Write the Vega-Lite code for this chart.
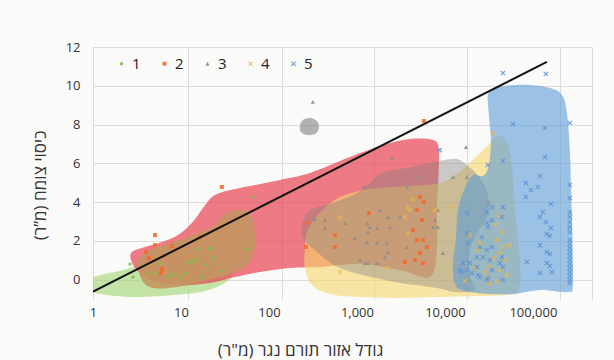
{
"$schema": "https://vega.github.io/schema/vega-lite/v6.json",
"width": 499,
"height": 252,
"autosize": {"type": "none"},
"padding": {"left": 93, "top": 47, "right": 22, "bottom": 61},
"background": "#fafaf9",
"config": {
  "view": {"stroke": null},
  "font": "Open Sans, DejaVu Sans",
  "axis": {"labelFont": "Open Sans, DejaVu Sans", "titleFont": "Open Sans, DejaVu Sans", "labelColor": "#333333", "titleColor": "#333333", "gridColor": "#dddbd9", "gridWidth": 1, "gridOpacity": 1, "domain": false, "ticks": false},
  "legend": {"labelFont": "Open Sans, DejaVu Sans", "labelColor": "#222222"}
},
"datasets": {
  "blobs": [
    {"b":"green","i":0,"x":1,"y":0.08},{"b":"green","i":1,"x":1.2,"y":0.23},{"b":"green","i":2,"x":1.78,"y":0.39},{"b":"green","i":3,"x":2.63,"y":0.6},{"b":"green","i":4,"x":3.9,"y":0.91},{"b":"green","i":5,"x":6.58,"y":1.22},{"b":"green","i":6,"x":12.7,"y":1.42},{"b":"green","i":7,"x":24.3,"y":1.27},{"b":"green","i":8,"x":38,"y":0.39},{"b":"green","i":9,"x":32.5,"y":-0.12},{"b":"green","i":10,"x":18.7,"y":-0.59},{"b":"green","i":11,"x":8.55,"y":-0.8},{"b":"green","i":12,"x":3,"y":-0.9},{"b":"green","i":13,"x":1.2,"y":-0.74},{"b":"green","i":14,"x":1,"y":-0.54},
    {"b":"red","i":0,"x":2.77,"y":1.42},{"b":"red","i":1,"x":3.9,"y":1.68},{"b":"red","i":2,"x":6.08,"y":1.94},{"b":"red","i":3,"x":9.25,"y":2.3},{"b":"red","i":4,"x":13.3,"y":2.92},{"b":"red","i":5,"x":17.8,"y":3.69},{"b":"red","i":6,"x":22.5,"y":4.26},{"b":"red","i":7,"x":30,"y":4.52},{"b":"red","i":8,"x":46.8,"y":4.72},{"b":"red","i":9,"x":133,"y":5.14},{"b":"red","i":10,"x":292,"y":5.5},{"b":"red","i":11,"x":832,"y":6.32},{"b":"red","i":12,"x":1973,"y":6.94},{"b":"red","i":13,"x":4000,"y":7.25},{"b":"red","i":14,"x":7306,"y":7.2},{"b":"red","i":15,"x":8500,"y":6.79},{"b":"red","i":16,"x":8500,"y":5.65},{"b":"red","i":17,"x":8110,"y":3.59},{"b":"red","i":18,"x":8110,"y":1.53},{"b":"red","i":19,"x":6760,"y":0.13},{"b":"red","i":20,"x":3080,"y":0.49},{"b":"red","i":21,"x":1082,"y":0.8},{"b":"red","i":22,"x":380,"y":0.65},{"b":"red","i":23,"x":173,"y":0.6},{"b":"red","i":24,"x":79,"y":0.39},{"b":"red","i":25,"x":41.1,"y":0.13},{"b":"red","i":26,"x":21.4,"y":-0.18},{"b":"red","i":27,"x":9.74,"y":-0.28},{"b":"red","i":28,"x":4.44,"y":-0.02},{"b":"red","i":29,"x":3.16,"y":0.49},{"b":"red","i":30,"x":2.7,"y":1.01},
    {"b":"brown","i":0,"x":3.25,"y":0.91},{"b":"brown","i":1,"x":4.44,"y":1.53},{"b":"brown","i":2,"x":6.58,"y":1.78},{"b":"brown","i":3,"x":11.7,"y":2.19},{"b":"brown","i":4,"x":23.1,"y":2.71},{"b":"brown","i":5,"x":31.6,"y":3.38},{"b":"brown","i":6,"x":43.3,"y":3.59},{"b":"brown","i":7,"x":57.7,"y":3.48},{"b":"brown","i":8,"x":67.6,"y":2.81},{"b":"brown","i":9,"x":69.3,"y":1.68},{"b":"brown","i":10,"x":59.3,"y":0.85},{"b":"brown","i":11,"x":38,"y":0.34},{"b":"brown","i":12,"x":19.7,"y":-0.02},{"b":"brown","i":13,"x":9.01,"y":-0.38},{"b":"brown","i":14,"x":4.81,"y":-0.43},{"b":"brown","i":15,"x":3.6,"y":-0.02},
    {"b":"yellow","i":0,"x":256,"y":1.53},{"b":"yellow","i":1,"x":270,"y":2.45},{"b":"yellow","i":2,"x":360,"y":3.33},{"b":"yellow","i":3,"x":562,"y":4.11},{"b":"yellow","i":4,"x":949,"y":4.52},{"b":"yellow","i":5,"x":1825,"y":4.72},{"b":"yellow","i":6,"x":4000,"y":4.83},{"b":"yellow","i":7,"x":8770,"y":4.98},{"b":"yellow","i":8,"x":14060,"y":5.5},{"b":"yellow","i":9,"x":21930,"y":6.27},{"b":"yellow","i":10,"x":32430,"y":7.04},{"b":"yellow","i":11,"x":41100,"y":7.46},{"b":"yellow","i":12,"x":52000,"y":6.94},{"b":"yellow","i":13,"x":59270,"y":5.39},{"b":"yellow","i":14,"x":64100,"y":3.07},{"b":"yellow","i":15,"x":71200,"y":1.01},{"b":"yellow","i":16,"x":71200,"y":-0.28},{"b":"yellow","i":17,"x":59270,"y":-0.74},{"b":"yellow","i":18,"x":25000,"y":-0.85},{"b":"yellow","i":19,"x":8770,"y":-0.9},{"b":"yellow","i":20,"x":3080,"y":-0.95},{"b":"yellow","i":21,"x":1082,"y":-0.9},{"b":"yellow","i":22,"x":493,"y":-0.74},{"b":"yellow","i":23,"x":308,"y":-0.28},{"b":"yellow","i":24,"x":256,"y":0.6},
    {"b":"gray","i":0,"x":237,"y":2.81},{"b":"gray","i":1,"x":292,"y":3.59},{"b":"gray","i":2,"x":534,"y":3.95},{"b":"gray","i":3,"x":1000,"y":4.47},{"b":"gray","i":4,"x":1405,"y":4.98},{"b":"gray","i":5,"x":1973,"y":5.55},{"b":"gray","i":6,"x":3700,"y":5.76},{"b":"gray","i":7,"x":6760,"y":6.01},{"b":"gray","i":8,"x":10000,"y":6.17},{"b":"gray","i":9,"x":13680,"y":6.22},{"b":"gray","i":10,"x":17780,"y":5.91},{"b":"gray","i":11,"x":25000,"y":5.24},{"b":"gray","i":12,"x":30830,"y":4.36},{"b":"gray","i":13,"x":30830,"y":3.33},{"b":"gray","i":14,"x":23710,"y":2.45},{"b":"gray","i":15,"x":19230,"y":1.53},{"b":"gray","i":16,"x":19230,"y":0.23},{"b":"gray","i":17,"x":21930,"y":-0.54},{"b":"gray","i":18,"x":13000,"y":-0.64},{"b":"gray","i":19,"x":8110,"y":-0.43},{"b":"gray","i":20,"x":2371,"y":-0.07},{"b":"gray","i":21,"x":641,"y":0.6},{"b":"gray","i":22,"x":333,"y":1.53},{"b":"gray","i":23,"x":243,"y":2.14},
    {"b":"gray2","i":0,"x":225,"y":7.92},{"b":"gray2","i":1,"x":243,"y":8.23},{"b":"gray2","i":2,"x":292,"y":8.34},{"b":"gray2","i":3,"x":351,"y":8.18},{"b":"gray2","i":4,"x":370,"y":7.82},{"b":"gray2","i":5,"x":333,"y":7.51},{"b":"gray2","i":6,"x":270,"y":7.46},{"b":"gray2","i":7,"x":231,"y":7.61},
    {"b":"blue","i":0,"x":31620,"y":9.68},{"b":"blue","i":1,"x":48080,"y":9.99},{"b":"blue","i":2,"x":92500,"y":10.04},{"b":"blue","i":3,"x":156000,"y":9.88},{"b":"blue","i":4,"x":213800,"y":9.53},{"b":"blue","i":5,"x":243200,"y":8.64},{"b":"blue","i":6,"x":263000,"y":6.68},{"b":"blue","i":7,"x":277300,"y":3.23},{"b":"blue","i":8,"x":284800,"y":-0.18},{"b":"blue","i":9,"x":250000,"y":-0.64},{"b":"blue","i":10,"x":120000,"y":-0.54},{"b":"blue","i":11,"x":62400,"y":-0.74},{"b":"blue","i":12,"x":32430,"y":-0.74},{"b":"blue","i":13,"x":19230,"y":-0.64},{"b":"blue","i":14,"x":13340,"y":-0.33},{"b":"blue","i":15,"x":12330,"y":0.75},{"b":"blue","i":16,"x":13340,"y":2.04},{"b":"blue","i":17,"x":14060,"y":3.59},{"b":"blue","i":18,"x":16870,"y":4.72},{"b":"blue","i":19,"x":20800,"y":5.39},{"b":"blue","i":20,"x":27040,"y":5.34},{"b":"blue","i":21,"x":31620,"y":5.91},{"b":"blue","i":22,"x":33340,"y":7.2},{"b":"blue","i":23,"x":31620,"y":8.49}
  ],
  "points": [
    {"g":"1","x":2.63,"y":0.8},{"g":"1","x":2.85,"y":0.13},{"g":"1","x":4.11,"y":0.34},{"g":"1","x":5.06,"y":0.34},{"g":"1","x":5.77,"y":0.85},{"g":"1","x":7.12,"y":0.18},{"g":"1","x":8.11,"y":0.29},{"g":"1","x":9.74,"y":0.13},{"g":"1","x":11.1,"y":0.34},{"g":"1","x":12,"y":0.91},{"g":"1","x":13.3,"y":0.96},{"g":"1","x":15.2,"y":1.01},{"g":"1","x":15.6,"y":1.58},{"g":"1","x":17.3,"y":0.13},{"g":"1","x":18.7,"y":0.75},{"g":"1","x":20.8,"y":1.58},{"g":"1","x":23.1,"y":1.16},{"g":"1","x":28.5,"y":0.44},{"g":"1","x":56.2,"y":1.58},{"g":"1","x":65.8,"y":4.26},{"g":"1","x":21.4,"y":1.63},
    {"g":"2","x":5.06,"y":2.3},{"g":"2","x":5.06,"y":1.78},{"g":"2","x":4,"y":1.42},{"g":"2","x":7.9,"y":1.73},{"g":"2","x":4.33,"y":1.11},{"g":"2","x":6.41,"y":1.22},{"g":"2","x":6.08,"y":0.54},{"g":"2","x":5.93,"y":0.34},{"g":"2","x":16.4,"y":2.19},{"g":"2","x":29.2,"y":4.78},{"g":"2","x":270,"y":2.92},{"g":"2","x":263,"y":1.68},{"g":"2","x":5770,"y":8.18},{"g":"2","x":1368,"y":3.43},{"g":"2","x":562,"y":2.3},{"g":"2","x":562,"y":1.68},{"g":"2","x":5200,"y":4.26},{"g":"2","x":5770,"y":4},{"g":"2","x":4808,"y":3.59},{"g":"2","x":5482,"y":3.07},{"g":"2","x":4329,"y":2.56},{"g":"2","x":4808,"y":2.04},{"g":"2","x":5623,"y":2.04},{"g":"2","x":6240,"y":1.68},{"g":"2","x":5200,"y":1.37},{"g":"2","x":4560,"y":1.01},{"g":"2","x":5623,"y":0.85},{"g":"2","x":3512,"y":0.91},
    {"g":"3","x":316,"y":9.17},{"g":"3","x":2500,"y":6.27},{"g":"3","x":17330,"y":6.84},{"g":"3","x":1202,"y":4.78},{"g":"3","x":3700,"y":4.78},{"g":"3","x":4935,"y":5.29},{"g":"3","x":12330,"y":5.29},{"g":"3","x":17780,"y":5.29},{"g":"3","x":433,"y":3.07},{"g":"3","x":433,"y":2.66},{"g":"3","x":333,"y":3.12},{"g":"3","x":731,"y":2.92},{"g":"3","x":1300,"y":2.92},{"g":"3","x":1405,"y":2.71},{"g":"3","x":1334,"y":2.45},{"g":"3","x":1688,"y":2.66},{"g":"3","x":2371,"y":2.71},{"g":"3","x":1825,"y":3.59},{"g":"3","x":2249,"y":3.23},{"g":"3","x":3080,"y":3.23},{"g":"3","x":1300,"y":1.94},{"g":"3","x":1688,"y":1.89},{"g":"3","x":2191,"y":1.89},{"g":"3","x":1233,"y":0.85},{"g":"3","x":1334,"y":0.85},{"g":"3","x":1688,"y":0.85},{"g":"3","x":2249,"y":1.42},{"g":"3","x":2080,"y":1.16},{"g":"3","x":3700,"y":1.68},{"g":"3","x":7306,"y":2.71},{"g":"3","x":8318,"y":2.71},{"g":"3","x":7700,"y":3.07},{"g":"3","x":9490,"y":1.37},{"g":"3","x":8318,"y":3.59},{"g":"3","x":949,"y":2.14},{"g":"3","x":1082,"y":1.01},
    {"g":"4","x":35100,"y":7.56},{"g":"4","x":12020,"y":3.74},{"g":"4","x":7700,"y":3.59},{"g":"4","x":42170,"y":3.33},{"g":"4","x":37000,"y":2.81},{"g":"4","x":44460,"y":2.45},{"g":"4","x":39000,"y":2.04},{"g":"4","x":45600,"y":1.68},{"g":"4","x":42170,"y":1.37},{"g":"4","x":48080,"y":1.01},{"g":"4","x":32430,"y":0.65},{"g":"4","x":42170,"y":0.49},{"g":"4","x":50700,"y":0.23},{"g":"4","x":28480,"y":0.39},{"g":"4","x":35100,"y":1.11},{"g":"4","x":25000,"y":1.89},{"g":"4","x":30000,"y":0.13},{"g":"4","x":39000,"y":-0.12},{"g":"4","x":641,"y":0.39},{"g":"4","x":2249,"y":0.6},{"g":"4","x":3800,"y":3.74},{"g":"4","x":4329,"y":4.11},{"g":"4","x":4000,"y":3.59},{"g":"4","x":3512,"y":3.23},{"g":"4","x":3800,"y":2.4},{"g":"4","x":641,"y":3.18},{"g":"4","x":30000,"y":3.95},{"g":"4","x":19230,"y":2.3},{"g":"4","x":23710,"y":1.53},{"g":"4","x":54800,"y":1.78},{"g":"4","x":21930,"y":0.6},{"g":"4","x":16870,"y":-0.07},{"g":"4","x":32430,"y":-0.18},
    {"g":"5","x":45600,"y":10.66},{"g":"5","x":140500,"y":10.61},{"g":"5","x":59270,"y":8.03},{"g":"5","x":137000,"y":7.82},{"g":"5","x":263000,"y":8.08},{"g":"5","x":8770,"y":6.68},{"g":"5","x":30830,"y":5.91},{"g":"5","x":45600,"y":6.12},{"g":"5","x":137000,"y":6.32},{"g":"5","x":120000,"y":5.34},{"g":"5","x":83200,"y":4.98},{"g":"5","x":94900,"y":4.62},{"g":"5","x":114000,"y":4.78},{"g":"5","x":83200,"y":4.26},{"g":"5","x":160300,"y":3.9},{"g":"5","x":130000,"y":3.48},{"g":"5","x":120000,"y":3.23},{"g":"5","x":140500,"y":2.97},{"g":"5","x":160300,"y":2.66},{"g":"5","x":144200,"y":2.35},{"g":"5","x":156000,"y":2.25},{"g":"5","x":120000,"y":1.78},{"g":"5","x":144200,"y":1.42},{"g":"5","x":156000,"y":1.32},{"g":"5","x":85500,"y":0.91},{"g":"5","x":144200,"y":0.85},{"g":"5","x":156000,"y":0.7},{"g":"5","x":164400,"y":0.39},{"g":"5","x":120000,"y":0.34},
    {"g":"5","x":263000,"y":4.88},{"g":"5","x":263000,"y":4.21},{"g":"5","x":263000,"y":3.48},{"g":"5","x":263000,"y":3.23},{"g":"5","x":263000,"y":2.97},{"g":"5","x":263000,"y":2.71},{"g":"5","x":263000,"y":2.45},{"g":"5","x":263000,"y":2.04},{"g":"5","x":263000,"y":1.83},{"g":"5","x":263000,"y":1.63},{"g":"5","x":263000,"y":1.42},{"g":"5","x":263000,"y":1.22},{"g":"5","x":263000,"y":1.01},{"g":"5","x":263000,"y":0.8},{"g":"5","x":263000,"y":0.6},{"g":"5","x":263000,"y":0.39},{"g":"5","x":263000,"y":0.18},{"g":"5","x":263000,"y":-0.02},{"g":"5","x":263000,"y":-0.18},
    {"g":"5","x":17780,"y":3.43},{"g":"5","x":30830,"y":3.95},{"g":"5","x":30000,"y":3.48},{"g":"5","x":30000,"y":2.92},{"g":"5","x":17780,"y":2.4},{"g":"5","x":18240,"y":1.89},{"g":"5","x":16030,"y":0.85},{"g":"5","x":19230,"y":0.85},{"g":"5","x":14800,"y":0.49},{"g":"5","x":17780,"y":0.49},{"g":"5","x":26300,"y":2.19},{"g":"5","x":30000,"y":1.53},{"g":"5","x":34200,"y":1.68},{"g":"5","x":32430,"y":1.01},{"g":"5","x":34200,"y":0.49},{"g":"5","x":30830,"y":0.08},{"g":"5","x":23710,"y":0.23},{"g":"5","x":42170,"y":0.85},{"g":"5","x":44460,"y":3.23},{"g":"5","x":34200,"y":3.74},{"g":"5","x":45600,"y":3.74},{"g":"5","x":34200,"y":3.07},{"g":"5","x":30830,"y":2.71},{"g":"5","x":25000,"y":1.68},{"g":"5","x":23100,"y":1.16},{"g":"5","x":27040,"y":1.16},{"g":"5","x":23100,"y":0.65},{"g":"5","x":15600,"y":0.39},{"g":"5","x":20270,"y":0.34},{"g":"5","x":25000,"y":0.13},{"g":"5","x":30000,"y":-0.02},{"g":"5","x":44460,"y":1.16},{"g":"5","x":45600,"y":0.65},{"g":"5","x":45600,"y":-0.02}
  ],
  "fit": [{"x": 1, "y": -0.62}, {"x": 144200, "y": 11.23}]
},
"resolve": {"axis": {"x": "independent"}},
"encoding": {
  "x": {"field": "x", "type": "quantitative", "scale": {"type": "log", "domain": [1, 470000], "nice": false}, "axis": null},
  "y": {"field": "y", "type": "quantitative", "scale": {"domain": [-1, 12], "nice": false, "zero": false},
        "axis": {"values": [0, 2, 4, 6, 8, 10, 12], "grid": true, "labelFontSize": 13, "labelPadding": 13,
                 "title": "כיסוי צומח (מ”ר)\u200f", "titleFontSize": 17, "titleFontWeight": "normal",
                 "titleX": -53, "titleY": 138, "titleBaseline": "middle", "titleAngle": 270}}
},
"layer": [
  {"data": {"name": "blobs"}, "transform": [{"filter": "datum.b === 'green'"}],
   "mark": {"type": "line", "interpolate": "cardinal-closed", "fill": "#a8d77a", "fillOpacity": 0.65, "strokeOpacity": 0, "strokeWidth": 0, "clip": true},
   "encoding": {"order": {"field": "i", "type": "quantitative"},
     "x": {"field": "x", "type": "quantitative", "scale": {"type": "log", "domain": [1, 470000], "nice": false},
           "axis": {"values": [1, 10, 100, 1000, 10000, 100000], "format": ",", "grid": false, "labelFontSize": 13, "labelPadding": 7, "labelFlush": false, "labelOverlap": false,
                    "title": "גודל אזור תורם נגר (מ\"ר)\u200f", "titleFontSize": 17, "titleFontWeight": "normal", "titleX": 207, "titleY": 51, "titleBaseline": "middle"}}}},
  {"data": {"name": "blobs"}, "transform": [{"filter": "datum.b === 'red'"}],
   "mark": {"type": "line", "interpolate": "cardinal-closed", "fill": "#e84552", "fillOpacity": 0.7, "strokeOpacity": 0, "strokeWidth": 0, "clip": true},
   "encoding": {"order": {"field": "i", "type": "quantitative"},
     "x": {"field": "x", "type": "quantitative", "scale": {"type": "log", "domain": [1, 470000], "nice": false},
           "axis": {"values": [1, 12, 141, 1560, 17800, 203000, 470000], "grid": true, "labels": false, "ticks": false, "domain": false, "title": null}}}},
  {"data": {"name": "blobs"}, "transform": [{"filter": "datum.b === 'brown'"}],
   "mark": {"type": "line", "interpolate": "cardinal-closed", "fill": "#c39660", "fillOpacity": 0.9, "strokeOpacity": 0, "strokeWidth": 0, "clip": true},
   "encoding": {"order": {"field": "i", "type": "quantitative"}}},
  {"data": {"name": "blobs"}, "transform": [{"filter": "datum.b === 'yellow'"}],
   "mark": {"type": "line", "interpolate": "cardinal-closed", "fill": "#f7d56a", "fillOpacity": 0.6, "strokeOpacity": 0, "strokeWidth": 0, "clip": true},
   "encoding": {"order": {"field": "i", "type": "quantitative"}}},
  {"data": {"name": "blobs"}, "transform": [{"filter": "datum.b === 'gray'"}],
   "mark": {"type": "line", "interpolate": "cardinal-closed", "fill": "#857f7c", "fillOpacity": 0.4, "strokeOpacity": 0, "strokeWidth": 0, "clip": true},
   "encoding": {"order": {"field": "i", "type": "quantitative"}}},
  {"data": {"name": "blobs"}, "transform": [{"filter": "datum.b === 'gray2'"}],
   "mark": {"type": "line", "interpolate": "cardinal-closed", "fill": "#808080", "fillOpacity": 0.6, "strokeOpacity": 0, "strokeWidth": 0, "clip": true},
   "encoding": {"order": {"field": "i", "type": "quantitative"}}},
  {"data": {"name": "blobs"}, "transform": [{"filter": "datum.b === 'blue'"}],
   "mark": {"type": "line", "interpolate": "cardinal-closed", "fill": "#5b9bd5", "fillOpacity": 0.6, "strokeOpacity": 0, "strokeWidth": 0, "clip": true},
   "encoding": {"order": {"field": "i", "type": "quantitative"}}},
  {"data": {"name": "points"},
   "mark": {"type": "point", "filled": true, "opacity": 0.9, "strokeWidth": 0, "clip": true},
   "encoding": {
     "color": {"field": "g", "type": "nominal", "scale": {"domain": ["1","2","3","4","5"], "range": ["#7cbf4a", "#f26a2e", "#8e8e8e", "#eeb44a", "#5d93d8"]},
               "legend": {"orient": "none", "legendX": 21, "legendY": 9, "direction": "horizontal", "columns": 5, "columnPadding": 16, "gridAlign": "all", "symbolSize": 28, "labelFontSize": 15, "labelOffset": 3, "title": null, "padding": 0, "symbolStrokeWidth": 0}},
     "shape": {"field": "g", "type": "nominal", "scale": {"domain": ["1","2","3","4","5"], "range": ["circle", "square", "triangle-up", "M-1,-0.7L-0.7,-1L0,-0.3L0.7,-1L1,-0.7L0.3,0L1,0.7L0.7,1L0,0.3L-0.7,1L-1,0.7L-0.3,0Z", "M-1,-0.7L-0.7,-1L0,-0.3L0.7,-1L1,-0.7L0.3,0L1,0.7L0.7,1L0,0.3L-0.7,1L-1,0.7L-0.3,0Z"]},
               "legend": {"orient": "none", "legendX": 21, "legendY": 9, "direction": "horizontal", "columns": 5, "columnPadding": 16, "gridAlign": "all", "symbolSize": 28, "labelFontSize": 15, "labelOffset": 3, "title": null, "padding": 0, "symbolStrokeWidth": 0}},
     "size": {"field": "g", "type": "nominal", "scale": {"domain": ["1","2","3","4","5"], "range": [12, 26, 22, 26, 24]}, "legend": null}
   }},
  {"data": {"name": "fit"},
   "mark": {"type": "line", "color": "#111111", "strokeWidth": 2, "clip": true},
   "encoding": {}}
]
}
